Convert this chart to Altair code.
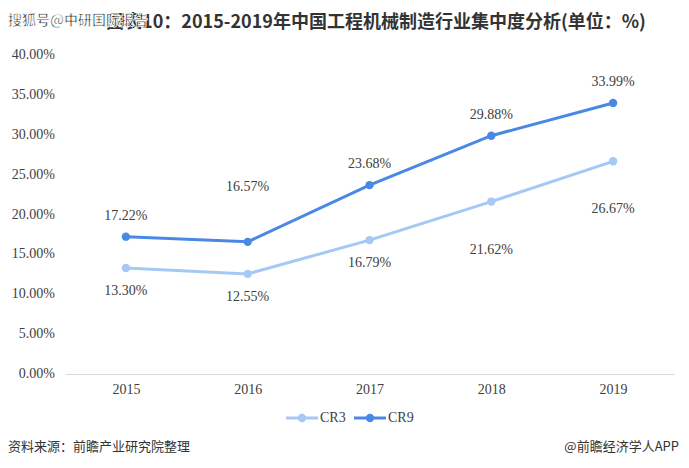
import altair as alt
import pandas as pd
import json

years = ["2015", "2016", "2017", "2018", "2019"]
cr3 = [13.30, 12.55, 16.79, 21.62, 26.67]
cr9 = [17.22, 16.57, 23.68, 29.88, 33.99]
series_names = ["CR3", "CR9"]
colors = ["#a6c8f5", "#4a88e6"]
y_ticks = [0, 5, 10, 15, 20, 25, 30, 35, 40]

rows = []
for y, a, b in zip(years, cr3, cr9):
    rows.append({"year": y, "series": "CR3", "value": a})
    rows.append({"year": y, "series": "CR9", "value": b})
df = pd.DataFrame(rows)
tick_df = pd.DataFrame({"value": y_ticks})

W, H = 609, 319
serif = "Liberation Serif"
cjk = "Noto Sans CJK SC"

y_scale = alt.Scale(domain=[0, 40], nice=False)
x_enc = alt.X("year:N", sort=years, scale=alt.Scale(paddingInner=0, paddingOuter=0.5),
              axis=alt.Axis(title=None, labelAngle=0, ticks=False, domain=True, domainColor="#d9d9d9",
                            labelFont=serif, labelFontSize=14, labelColor="#404040",
                            labelPadding=8, grid=False))
y_enc = alt.Y("value:Q", scale=y_scale, axis=None)
color_enc = alt.Color("series:N", scale=alt.Scale(domain=series_names, range=colors), legend=None)

base = alt.Chart(df)
lines = base.mark_line(strokeWidth=3).encode(x=x_enc, y=y_enc, color=color_enc)
points = base.mark_point(filled=True, size=70, opacity=1).encode(x=x_enc, y=y_enc, color=color_enc)

# y-axis tick labels, placed by the y scale
y_labels = alt.Chart(tick_df).transform_calculate(
    lab="format(datum.value, '.2f') + '%'"
).mark_text(font=serif, fontSize=14, color="#404040", align="right", baseline="middle").encode(
    x=alt.value(-10), y=y_enc, text="lab:N")

def lbl2(series, yrs, dy):
    cond = "datum.series == '%s' && indexof(%s, datum.year) >= 0" % (series, json.dumps(yrs))
    return base.transform_filter(cond).transform_calculate(
        lab="format(datum.value, '.2f') + '%'").mark_text(
        font=serif, fontSize=14, color="#404040", dy=dy).encode(
        x=x_enc, y=y_enc, text="lab:N")

labels = [
    lbl2("CR9", ["2015", "2017", "2018", "2019"], -21),
    lbl2("CR9", ["2016"], -55),
    lbl2("CR3", ["2015", "2016", "2017"], 23),
    lbl2("CR3", ["2018", "2019"], 48),
]

one = pd.DataFrame({"a": [0]})
one_chart = alt.Chart(one)

title = one_chart.mark_text(font=cjk, fontSize=18, fontWeight="bold", color="#333333", align="center",
                            baseline="middle").encode(
    x=alt.value(311), y=alt.value(-32),
    text=alt.value("图表10：2015-2019年中国工程机械制造行业集中度分析(单位：%)"))
wm = one_chart.mark_text(font=cjk, fontSize=14, fontWeight="bold", color="#1a1a1a", align="left",
                         baseline="middle", stroke="white", strokeWidth=0.8).encode(
    x=alt.value(-57), y=alt.value(-34), text=alt.value("搜狐号@中研国际报告"))

legend_parts = []
for name, col, x0 in zip(series_names, colors, [221, 289]):
    legend_parts.append(one_chart.mark_rule(color=col, strokeWidth=3).encode(
        x=alt.value(x0), x2=alt.value(x0 + 32), y=alt.value(363)))
    legend_parts.append(one_chart.mark_point(filled=True, size=70, color=col, opacity=1).encode(
        x=alt.value(x0 + 16), y=alt.value(363)))
    legend_parts.append(one_chart.mark_text(font=serif, fontSize=14, color="#404040", align="left",
                                            baseline="middle").encode(
        x=alt.value(x0 + 34), y=alt.value(363), text=alt.value(name)))

foot_l = one_chart.mark_text(font=cjk, fontSize=13, color="#333333", align="left", baseline="middle").encode(
    x=alt.value(-57), y=alt.value(392), text=alt.value("资料来源：前瞻产业研究院整理"))
foot_r = one_chart.mark_text(font=cjk, fontSize=13, color="#333333", align="right", baseline="middle").encode(
    x=alt.value(614), y=alt.value(392), text=alt.value("@前瞻经济学人APP"))

chart = alt.layer(lines, points, y_labels, *labels, title, wm, *legend_parts, foot_l, foot_r).properties(
    width=W, height=H, autosize=alt.AutoSizeParams(type="none"),
    padding={"left": 57, "top": 47, "right": 7, "bottom": 86},
    background="white",
).configure_view(strokeWidth=0, stroke="transparent")

chart.save("out.html", embed_options={"renderer": "svg", "actions": False})
